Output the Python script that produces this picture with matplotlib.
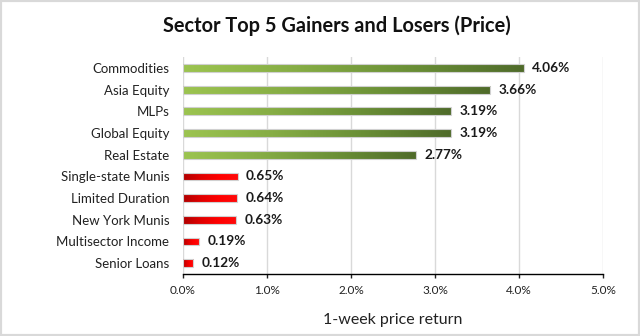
import numpy as np
import matplotlib.pyplot as plt
from matplotlib.colors import LinearSegmentedColormap
from matplotlib.ticker import PercentFormatter

plt.rcParams['font.family'] = ['Lato', 'DejaVu Sans']

sectors = ['Commodities', 'Asia Equity', 'MLPs', 'Global Equity', 'Real Estate',
           'Single-state Munis', 'Limited Duration', 'New York Munis',
           'Multisector Income', 'Senior Loans']
returns = [4.06, 3.66, 3.19, 3.19, 2.77, 0.65, 0.64, 0.63, 0.19, 0.12]
gainer = [True] * 5 + [False] * 5

green = LinearSegmentedColormap.from_list('g', ['#9CC450', '#86AD45', '#6A8F36', '#4F6B2A'])
red = LinearSegmentedColormap.from_list('r', ['#B00000', '#E00000', '#FF0000', '#FF0A0A'])

fig = plt.figure(figsize=(6.4, 3.36), dpi=100)
ax = fig.add_axes([0.286, 0.1845, 0.656, 0.6455])

y = np.arange(len(sectors))
bars = ax.barh(y, returns, height=0.36, color='none', edgecolor='#D0D0D0', linewidth=0.8, zorder=3)

# gradient fill clipped to each bar
grad = np.linspace(0, 1, 256).reshape(1, -1)
for bar, val, up in zip(bars, returns, gainer):
    x0, y0 = bar.get_x(), bar.get_y()
    w, h = bar.get_width(), bar.get_height()
    im = ax.imshow(grad, cmap=green if up else red, aspect='auto',
                   extent=(x0, x0 + w, y0 + h, y0), zorder=2)
    im.set_clip_path(bar)
    ax.text(val + 0.1, bar.get_y() + h / 2, f'{val:.2f}%', va='center', ha='left',
            fontsize=9.8, fontweight='bold', color='#1a1a1a')

ax.set_xlim(0, 5)
ax.set_ylim(9.5, -0.5)
ax.set_yticks(y)
ax.set_yticklabels(sectors, fontsize=9.5, color='#222222')
ax.tick_params(axis='y', length=0, pad=10)
ax.set_xticks(np.arange(0, 5.01, 1))
ax.xaxis.set_major_formatter(PercentFormatter(decimals=1))
ax.tick_params(axis='x', direction='out', length=3, width=1, labelsize=8.5, pad=5, colors='#222222')
ax.grid(axis='x', color='#D9D9D9', linewidth=1, zorder=0)
for s in ['top', 'right', 'left']:
    ax.spines[s].set_visible(False)
ax.spines['bottom'].set_color('black')
ax.spines['bottom'].set_linewidth(1)
ax.set_xlabel('1-week price return', fontsize=11.5, color='#222222', labelpad=12)

fig.suptitle('Sector Top 5 Gainers and Losers (Price)', fontsize=14.4, fontweight='bold',
             x=0.527, y=0.955, color='#111111')

fig.patches.append(plt.Rectangle((0, 0), 1, 1, transform=fig.transFigure, fill=False,
                                 edgecolor='#D9D9D9', linewidth=3))
fig.savefig('out.png', dpi=100)
